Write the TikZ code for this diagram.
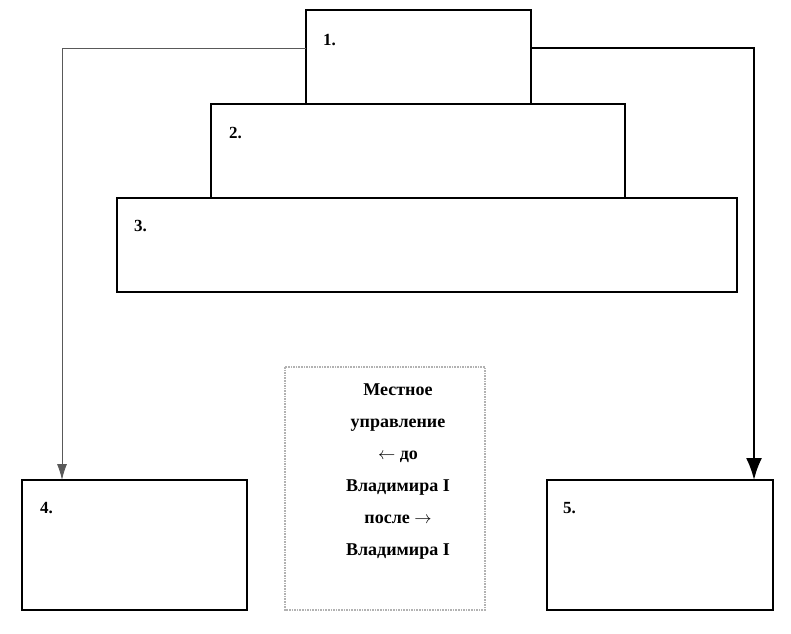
\documentclass[tikz,border=0pt]{standalone}
\usepackage{fontspec}
\setmainfont{Liberation Serif}
\usetikzlibrary{arrows.meta}
\begin{document}
\begin{tikzpicture}[x=1pt,y=-1pt,
  box/.style={draw,line width=1.6pt},
  lab/.style={anchor=west,font=\bfseries\fontsize{17}{20}\selectfont,inner sep=0}]
\useasboundingbox (0,0) rectangle (791,633);
\draw[box] (306,10) rectangle (531,104);
\draw[box] (211,104) rectangle (625,198);
\draw[box] (117,198) rectangle (737,292);
\draw[box] (22,480) rectangle (247,610);
\draw[box] (547,480) rectangle (773,610);
\node[lab] (n1) at (323,40) {1.};
\node[lab] (n2) at (229,133) {2.};
\node[lab] (n3) at (134,226) {3.};
\node[lab] (n4) at (40,508) {4.};
\node[lab] (n5) at (563,508) {5.};
\coordinate (b1l) at (306,48);
\coordinate (b1r) at (531,48);
\coordinate (t4) at (62,480);
\coordinate (t5) at (754,480);
\draw[gray!70!black,line width=0.9pt,-{Latex[length=16pt,width=10pt]}] (b1l) -| (t4);
\draw[line width=2.2pt,-{Latex[length=22pt,width=16pt]}] (b1r) -| (t5);
\draw[gray!60,line width=1.6pt,densely dotted] (285,367) rectangle (485,610);
\node[font=\bfseries\fontsize{18}{32}\selectfont,align=center,inner sep=0] (c) at (398,472)
 {Местное\\управление\\$\leftarrow$ до\\Владимира I\\после $\rightarrow$\\Владимира I};
\end{tikzpicture}
\end{document}
